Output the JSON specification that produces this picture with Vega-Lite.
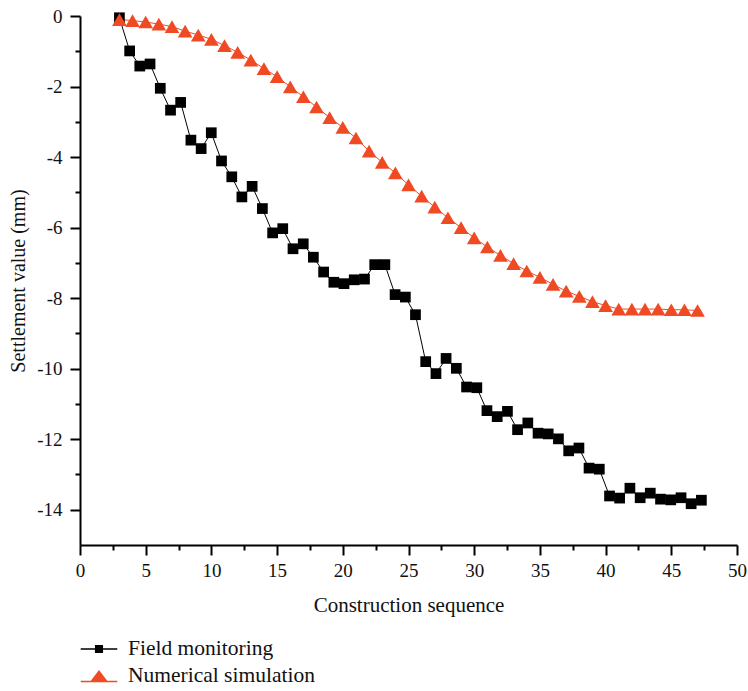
{
  "$schema": "https://vega.github.io/schema/vega-lite/v6.json",
  "width": 657,
  "height": 529,
  "autosize": {"type": "none"},
  "padding": {"left": 80, "top": 16, "right": 11, "bottom": 146},
  "config": {
    "view": {"stroke": null},
    "font": "Liberation Serif",
    "axis": {"grid": false, "domainColor": "#000", "tickColor": "#000", "labelColor": "#111", "titleColor": "#111", "labelFont": "Liberation Serif", "titleFont": "Liberation Serif", "titleFontWeight": "normal", "domainWidth": 2, "tickWidth": 2},
    "legend": {"orient": "none", "legendX": 3, "legendY": 617, "title": null, "symbolSize": 900, "labelFontSize": 21.5, "labelFont": "Liberation Serif", "labelColor": "#111", "labelOffset": 13, "labelLimit": 400, "rowPadding": 0}
  },
  "data": {"values": [
    {"seq": 3.00, "value": -0.05, "series": "Field monitoring"},
    {"seq": 3.78, "value": -0.99, "series": "Field monitoring"},
    {"seq": 4.55, "value": -1.42, "series": "Field monitoring"},
    {"seq": 5.33, "value": -1.36, "series": "Field monitoring"},
    {"seq": 6.11, "value": -2.05, "series": "Field monitoring"},
    {"seq": 6.89, "value": -2.67, "series": "Field monitoring"},
    {"seq": 7.66, "value": -2.45, "series": "Field monitoring"},
    {"seq": 8.44, "value": -3.52, "series": "Field monitoring"},
    {"seq": 9.22, "value": -3.76, "series": "Field monitoring"},
    {"seq": 9.99, "value": -3.31, "series": "Field monitoring"},
    {"seq": 10.77, "value": -4.11, "series": "Field monitoring"},
    {"seq": 11.55, "value": -4.56, "series": "Field monitoring"},
    {"seq": 12.32, "value": -5.13, "series": "Field monitoring"},
    {"seq": 13.10, "value": -4.83, "series": "Field monitoring"},
    {"seq": 13.88, "value": -5.46, "series": "Field monitoring"},
    {"seq": 14.66, "value": -6.15, "series": "Field monitoring"},
    {"seq": 15.43, "value": -6.03, "series": "Field monitoring"},
    {"seq": 16.21, "value": -6.60, "series": "Field monitoring"},
    {"seq": 16.99, "value": -6.46, "series": "Field monitoring"},
    {"seq": 17.76, "value": -6.84, "series": "Field monitoring"},
    {"seq": 18.54, "value": -7.26, "series": "Field monitoring"},
    {"seq": 19.32, "value": -7.55, "series": "Field monitoring"},
    {"seq": 20.09, "value": -7.59, "series": "Field monitoring"},
    {"seq": 20.87, "value": -7.48, "series": "Field monitoring"},
    {"seq": 21.65, "value": -7.46, "series": "Field monitoring"},
    {"seq": 22.43, "value": -7.05, "series": "Field monitoring"},
    {"seq": 23.20, "value": -7.05, "series": "Field monitoring"},
    {"seq": 23.98, "value": -7.90, "series": "Field monitoring"},
    {"seq": 24.76, "value": -7.97, "series": "Field monitoring"},
    {"seq": 25.53, "value": -8.47, "series": "Field monitoring"},
    {"seq": 26.31, "value": -9.80, "series": "Field monitoring"},
    {"seq": 27.09, "value": -10.14, "series": "Field monitoring"},
    {"seq": 27.86, "value": -9.71, "series": "Field monitoring"},
    {"seq": 28.64, "value": -9.99, "series": "Field monitoring"},
    {"seq": 29.42, "value": -10.52, "series": "Field monitoring"},
    {"seq": 30.20, "value": -10.54, "series": "Field monitoring"},
    {"seq": 30.97, "value": -11.19, "series": "Field monitoring"},
    {"seq": 31.75, "value": -11.36, "series": "Field monitoring"},
    {"seq": 32.53, "value": -11.21, "series": "Field monitoring"},
    {"seq": 33.30, "value": -11.73, "series": "Field monitoring"},
    {"seq": 34.08, "value": -11.54, "series": "Field monitoring"},
    {"seq": 34.86, "value": -11.83, "series": "Field monitoring"},
    {"seq": 35.63, "value": -11.85, "series": "Field monitoring"},
    {"seq": 36.41, "value": -11.99, "series": "Field monitoring"},
    {"seq": 37.19, "value": -12.33, "series": "Field monitoring"},
    {"seq": 37.97, "value": -12.25, "series": "Field monitoring"},
    {"seq": 38.74, "value": -12.82, "series": "Field monitoring"},
    {"seq": 39.52, "value": -12.85, "series": "Field monitoring"},
    {"seq": 40.30, "value": -13.61, "series": "Field monitoring"},
    {"seq": 41.07, "value": -13.67, "series": "Field monitoring"},
    {"seq": 41.85, "value": -13.39, "series": "Field monitoring"},
    {"seq": 42.63, "value": -13.66, "series": "Field monitoring"},
    {"seq": 43.40, "value": -13.53, "series": "Field monitoring"},
    {"seq": 44.18, "value": -13.70, "series": "Field monitoring"},
    {"seq": 44.96, "value": -13.72, "series": "Field monitoring"},
    {"seq": 45.74, "value": -13.66, "series": "Field monitoring"},
    {"seq": 46.51, "value": -13.83, "series": "Field monitoring"},
    {"seq": 47.29, "value": -13.73, "series": "Field monitoring"},
    {"seq": 3, "value": -0.10, "series": "Numerical simulation"},
    {"seq": 4, "value": -0.13, "series": "Numerical simulation"},
    {"seq": 5, "value": -0.17, "series": "Numerical simulation"},
    {"seq": 6, "value": -0.23, "series": "Numerical simulation"},
    {"seq": 7, "value": -0.30, "series": "Numerical simulation"},
    {"seq": 8, "value": -0.43, "series": "Numerical simulation"},
    {"seq": 9, "value": -0.54, "series": "Numerical simulation"},
    {"seq": 10, "value": -0.66, "series": "Numerical simulation"},
    {"seq": 11, "value": -0.84, "series": "Numerical simulation"},
    {"seq": 12, "value": -1.03, "series": "Numerical simulation"},
    {"seq": 13, "value": -1.25, "series": "Numerical simulation"},
    {"seq": 14, "value": -1.49, "series": "Numerical simulation"},
    {"seq": 15, "value": -1.72, "series": "Numerical simulation"},
    {"seq": 16, "value": -2.01, "series": "Numerical simulation"},
    {"seq": 17, "value": -2.29, "series": "Numerical simulation"},
    {"seq": 18, "value": -2.58, "series": "Numerical simulation"},
    {"seq": 19, "value": -2.88, "series": "Numerical simulation"},
    {"seq": 20, "value": -3.16, "series": "Numerical simulation"},
    {"seq": 21, "value": -3.46, "series": "Numerical simulation"},
    {"seq": 22, "value": -3.83, "series": "Numerical simulation"},
    {"seq": 23, "value": -4.15, "series": "Numerical simulation"},
    {"seq": 24, "value": -4.45, "series": "Numerical simulation"},
    {"seq": 25, "value": -4.79, "series": "Numerical simulation"},
    {"seq": 26, "value": -5.11, "series": "Numerical simulation"},
    {"seq": 27, "value": -5.42, "series": "Numerical simulation"},
    {"seq": 28, "value": -5.72, "series": "Numerical simulation"},
    {"seq": 29, "value": -6.00, "series": "Numerical simulation"},
    {"seq": 30, "value": -6.29, "series": "Numerical simulation"},
    {"seq": 31, "value": -6.55, "series": "Numerical simulation"},
    {"seq": 32, "value": -6.79, "series": "Numerical simulation"},
    {"seq": 33, "value": -7.02, "series": "Numerical simulation"},
    {"seq": 34, "value": -7.23, "series": "Numerical simulation"},
    {"seq": 35, "value": -7.41, "series": "Numerical simulation"},
    {"seq": 36, "value": -7.61, "series": "Numerical simulation"},
    {"seq": 37, "value": -7.80, "series": "Numerical simulation"},
    {"seq": 38, "value": -7.95, "series": "Numerical simulation"},
    {"seq": 39, "value": -8.10, "series": "Numerical simulation"},
    {"seq": 40, "value": -8.21, "series": "Numerical simulation"},
    {"seq": 41, "value": -8.31, "series": "Numerical simulation"},
    {"seq": 42, "value": -8.31, "series": "Numerical simulation"},
    {"seq": 43, "value": -8.31, "series": "Numerical simulation"},
    {"seq": 44, "value": -8.31, "series": "Numerical simulation"},
    {"seq": 45, "value": -8.33, "series": "Numerical simulation"},
    {"seq": 46, "value": -8.33, "series": "Numerical simulation"},
    {"seq": 47, "value": -8.35, "series": "Numerical simulation"}
  ]},
  "resolve": {"axis": {"x": "independent", "y": "independent"}},
  "layer": [
    {
      "mark": {"type": "line", "strokeWidth": 1},
      "encoding": {
        "x": {"field": "seq", "type": "quantitative", "scale": {"domain": [0, 50], "nice": false},
          "axis": {"orient": "bottom", "values": [0, 5, 10, 15, 20, 25, 30, 35, 40, 45, 50], "tickSize": 10, "labelFontSize": 19, "labelPadding": 6, "labelFlush": false, "title": "Construction sequence", "titleFontSize": 21, "titlePadding": 14}},
        "y": {"field": "value", "type": "quantitative", "scale": {"domain": [-15, 0], "nice": false, "zero": false},
          "axis": {"orient": "left", "values": [-14, -12, -10, -8, -6, -4, -2, 0], "tickSize": 10, "labelFontSize": 19, "labelPadding": 8, "labelExpr": "datum.value == 0 ? '0' : '-' + abs(datum.value)", "title": "Settlement value (mm)", "titleFontSize": 20, "titlePadding": 8}},
        "color": {"field": "series", "type": "nominal", "scale": {"domain": ["Field monitoring", "Numerical simulation"], "range": ["#000000", "#f04a24"]},
          "legend": {
            "encode": {"symbols": {"update": {
              "shape": {"signal": "datum.value === 'Field monitoring' ? 'M-1.22,0H1.22M-0.22,-0.22H0.22V0.22H-0.22Z' : 'M-1.22,0.36H1.22M0,-0.32L0.52,0.36L-0.52,0.36Z'"},
              "size": {"value": 900},
              "stroke": {"signal": "datum.value === 'Field monitoring' ? '#000000' : '#f04a24'"},
              "fill": {"signal": "datum.value === 'Field monitoring' ? '#000000' : '#f04a24'"},
              "strokeWidth": {"value": 1.5},
              "opacity": {"value": 1}
            }}}}}
      }
    },
    {
      "transform": [{"filter": "datum.series === 'Field monitoring'"}],
      "mark": {"type": "point", "shape": "square", "size": 115, "filled": true, "opacity": 1, "color": "#000000"},
      "encoding": {
        "x": {"field": "seq", "type": "quantitative",
          "axis": {"orient": "bottom", "values": [2.5, 7.5, 12.5, 17.5, 22.5, 27.5, 32.5, 37.5, 42.5, 47.5], "tickSize": 5, "labels": false, "domain": false, "title": null}},
        "y": {"field": "value", "type": "quantitative",
          "axis": {"orient": "left", "values": [-13, -11, -9, -7, -5, -3, -1], "tickSize": 5, "labels": false, "domain": false, "title": null}}
      }
    },
    {
      "transform": [{"filter": "datum.series === 'Numerical simulation'"}],
      "mark": {"type": "point", "shape": "triangle-up", "size": 215, "filled": true, "opacity": 1, "color": "#f04a24"},
      "encoding": {
        "x": {"field": "seq", "type": "quantitative", "axis": null},
        "y": {"field": "value", "type": "quantitative", "axis": null}
      }
    }
  ]
}
